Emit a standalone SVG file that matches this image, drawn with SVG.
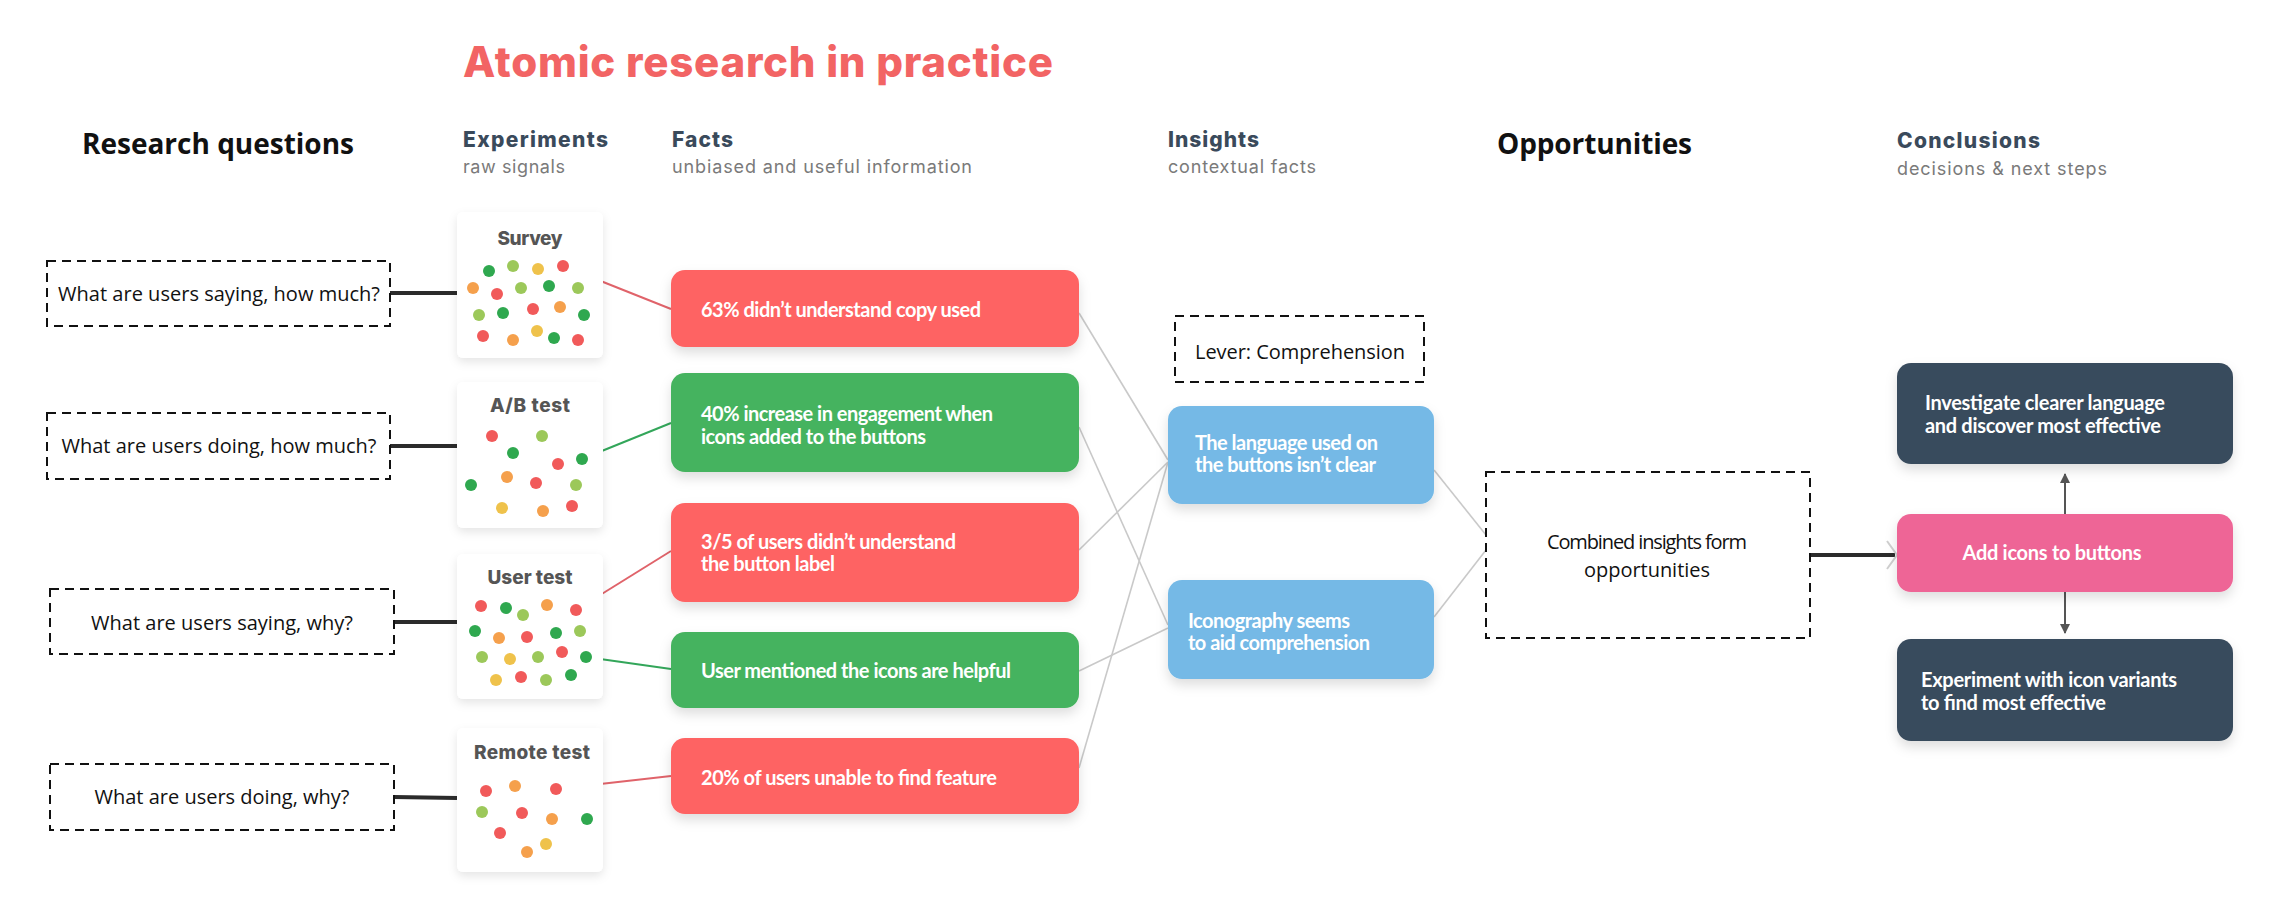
<svg xmlns="http://www.w3.org/2000/svg" width="2284" height="912" viewBox="0 0 2284 912">
<defs>
<filter id="sh" x="-20%" y="-20%" width="140%" height="160%">
<feDropShadow dx="0" dy="6" stdDeviation="6" flood-color="#000" flood-opacity="0.13"/>
</filter>
<filter id="shc" x="-20%" y="-20%" width="140%" height="140%">
<feDropShadow dx="0" dy="4" stdDeviation="5" flood-color="#000" flood-opacity="0.10"/>
</filter>
<marker id="ah" viewBox="0 0 10 10" refX="9" refY="5" markerWidth="10" markerHeight="10" markerUnits="userSpaceOnUse" orient="auto">
<path d="M0,0 L10,5 L0,10 z" fill="#555"/>
</marker>
</defs>
<style>
.hd{font-family:Inter,"Liberation Sans",sans-serif;font-weight:800;font-size:21px;fill:#3a4a5b}
.sub{font-family:Inter,"Liberation Sans",sans-serif;font-size:18px;fill:#7a7a7a}
.big{font-family:"Open Sans","Liberation Sans",sans-serif;font-weight:700;font-size:28px;fill:#111}
.q{font-family:"Open Sans","Liberation Sans",sans-serif;font-size:20px;fill:#111}
.dash{fill:#fff;stroke:#111;stroke-width:2;stroke-dasharray:9 6}
.card{fill:#fff;filter:url(#shc)}
.ct{font-family:Inter,"Liberation Sans",sans-serif;font-weight:800;font-size:19px;fill:#555;text-anchor:middle}
.bt{font-family:Lato,"Liberation Sans",sans-serif;font-weight:700;font-size:20px;fill:#fff}
.red{fill:#fe6363;filter:url(#sh)}
.grn{fill:#45b35e;filter:url(#sh)}
.blu{fill:#75b9e6;filter:url(#sh)}
.drk{fill:#394b5d;filter:url(#sh)}
.pnk{fill:#ee6596;filter:url(#sh)}
.r{fill:#f15a5a}.o{fill:#f5a04c}.y{fill:#efc24b}.l{fill:#9cc85a}.g{fill:#2fa84f}
.thick{stroke:#2b2b2b;stroke-width:4;fill:none}
.gray{stroke:#c9c9c9;stroke-width:1.6;fill:none}
.lr{stroke:#e0636a;stroke-width:2;fill:none}
.lg{stroke:#33a65a;stroke-width:2;fill:none}
</style>
<rect width="2284" height="912" fill="#fff"/>

<g id="headers">
<text x="463" y="77" font-family="Inter,'Liberation Sans',sans-serif" font-weight="800" font-size="42" fill="#f26464" textLength="590">Atomic research in practice</text>
<text class="big" x="82" y="154" textLength="272">Research questions</text>
<text class="big" x="1497" y="154" textLength="195">Opportunities</text>
<text class="hd" x="463" y="147" textLength="145">Experiments</text>
<text class="sub" x="463" y="173" textLength="102">raw signals</text>
<text class="hd" x="672" y="147" textLength="61">Facts</text>
<text class="sub" x="672" y="173" textLength="300">unbiased and useful information</text>
<text class="hd" x="1168" y="147" textLength="91">Insights</text>
<text class="sub" x="1168" y="173" textLength="148">contextual facts</text>
<text class="hd" x="1897" y="148" textLength="143">Conclusions</text>
<text class="sub" x="1897" y="175" textLength="210">decisions &amp; next steps</text>
</g>

<g id="connectors">
<line class="thick" x1="390" y1="293" x2="457" y2="293"/>
<line class="thick" x1="390" y1="446" x2="457" y2="446"/>
<line class="thick" x1="394" y1="622" x2="457" y2="622"/>
<line class="thick" x1="394" y1="797" x2="457" y2="798"/>
<line class="lr" x1="563" y1="266" x2="671" y2="309"/>
<line class="lg" x1="582" y1="459" x2="671" y2="423"/>
<line class="lr" x1="576" y1="610" x2="671" y2="551"/>
<line class="lg" x1="586" y1="657" x2="671" y2="669"/>
<line class="lr" x1="556" y1="789" x2="671" y2="776"/>
<line class="gray" x1="1079" y1="313" x2="1168" y2="460"/>
<line class="gray" x1="1079" y1="427" x2="1168" y2="625"/>
<line class="gray" x1="1079" y1="550" x2="1168" y2="462"/>
<line class="gray" x1="1079" y1="671" x2="1168" y2="628"/>
<line class="gray" x1="1079" y1="768" x2="1168" y2="462"/>
<line class="gray" x1="1434" y1="470" x2="1486" y2="535"/>
<line class="gray" x1="1434" y1="617" x2="1486" y2="550"/>
<line class="thick" x1="1810" y1="555" x2="1895" y2="555"/>
<path d="M1887,541 L1897,555 L1887,569" stroke="#cfcfcf" stroke-width="2" fill="none"/>
<line x1="2065" y1="514" x2="2065" y2="474" stroke="#555" stroke-width="2" marker-end="url(#ah)"/>
<line x1="2065" y1="592" x2="2065" y2="633" stroke="#555" stroke-width="2" marker-end="url(#ah)"/>
</g>

<g id="q1"><rect class="dash" x="47" y="261" width="343" height="65"/><text class="q" x="219" y="301" text-anchor="middle" textLength="322">What are users saying, how much?</text></g>
<g id="q2"><rect class="dash" x="47" y="413" width="343" height="66"/><text class="q" x="219" y="453" text-anchor="middle" textLength="315">What are users doing, how much?</text></g>
<g id="q3"><rect class="dash" x="50" y="589" width="344" height="65"/><text class="q" x="222" y="630" text-anchor="middle" textLength="262">What are users saying, why?</text></g>
<g id="q4"><rect class="dash" x="50" y="764" width="344" height="66"/><text class="q" x="222" y="804" text-anchor="middle" textLength="255">What are users doing, why?</text></g>

<g id="survey">
<rect class="card" x="457" y="212" width="146" height="146" rx="6"/>
<text class="ct" x="530" y="245" textLength="65">Survey</text>
<circle class="g" cx="489" cy="271" r="6"/><circle class="l" cx="513" cy="266" r="6"/><circle class="y" cx="538" cy="269" r="6"/><circle class="r" cx="563" cy="266" r="6"/>
<circle class="o" cx="473" cy="288" r="6"/><circle class="r" cx="497" cy="294" r="6"/><circle class="l" cx="521" cy="288" r="6"/><circle class="g" cx="549" cy="286" r="6"/><circle class="l" cx="578" cy="288" r="6"/>
<circle class="l" cx="479" cy="315" r="6"/><circle class="g" cx="503" cy="313" r="6"/><circle class="r" cx="533" cy="309" r="6"/><circle class="o" cx="560" cy="307" r="6"/><circle class="g" cx="584" cy="315" r="6"/>
<circle class="r" cx="483" cy="336" r="6"/><circle class="o" cx="513" cy="340" r="6"/><circle class="y" cx="537" cy="331" r="6"/><circle class="g" cx="554" cy="338" r="6"/><circle class="r" cx="578" cy="340" r="6"/>
</g>

<g id="abtest">
<rect class="card" x="457" y="382" width="146" height="146" rx="6"/>
<text class="ct" x="530" y="412" textLength="80">A/B test</text>
<circle class="r" cx="492" cy="436" r="6"/><circle class="l" cx="542" cy="436" r="6"/><circle class="g" cx="513" cy="453" r="6"/><circle class="r" cx="558" cy="464" r="6"/><circle class="g" cx="582" cy="459" r="6"/>
<circle class="g" cx="471" cy="485" r="6"/><circle class="o" cx="507" cy="477" r="6"/><circle class="r" cx="536" cy="483" r="6"/><circle class="l" cx="576" cy="485" r="6"/>
<circle class="y" cx="502" cy="508" r="6"/><circle class="o" cx="543" cy="511" r="6"/><circle class="r" cx="572" cy="506" r="6"/>
</g>

<g id="usertest">
<rect class="card" x="457" y="554" width="146" height="145" rx="6"/>
<text class="ct" x="530" y="584" textLength="85">User test</text>
<circle class="r" cx="481" cy="606" r="6"/><circle class="g" cx="506" cy="608" r="6"/><circle class="l" cx="523" cy="615" r="6"/><circle class="o" cx="547" cy="605" r="6"/><circle class="r" cx="576" cy="610" r="6"/>
<circle class="g" cx="475" cy="631" r="6"/><circle class="o" cx="499" cy="638" r="6"/><circle class="r" cx="527" cy="637" r="6"/><circle class="g" cx="556" cy="633" r="6"/><circle class="l" cx="580" cy="631" r="6"/>
<circle class="l" cx="482" cy="657" r="6"/><circle class="y" cx="510" cy="659" r="6"/><circle class="l" cx="538" cy="657" r="6"/><circle class="r" cx="562" cy="652" r="6"/><circle class="g" cx="586" cy="657" r="6"/>
<circle class="y" cx="496" cy="680" r="6"/><circle class="r" cx="521" cy="677" r="6"/><circle class="l" cx="546" cy="680" r="6"/><circle class="g" cx="571" cy="675" r="6"/>
</g>

<g id="remotetest">
<rect class="card" x="457" y="728" width="146" height="144" rx="6"/>
<text class="ct" x="532" y="759" textLength="116">Remote test</text>
<circle class="r" cx="486" cy="791" r="6"/><circle class="o" cx="515" cy="786" r="6"/><circle class="r" cx="556" cy="789" r="6"/>
<circle class="l" cx="482" cy="812" r="6"/><circle class="r" cx="522" cy="813" r="6"/><circle class="o" cx="552" cy="819" r="6"/><circle class="g" cx="587" cy="819" r="6"/>
<circle class="r" cx="500" cy="833" r="6"/><circle class="y" cx="546" cy="844" r="6"/><circle class="o" cx="527" cy="852" r="6"/>
</g>

<g id="fact1"><rect class="red" x="671" y="270" width="408" height="77" rx="14"/><text class="bt" x="701" y="317" textLength="280">63% didn’t understand copy used</text></g>
<g id="fact2"><rect class="grn" x="671" y="373" width="408" height="99" rx="14"/><text class="bt" x="701" y="421" textLength="292">40% increase in engagement when</text><text class="bt" x="701" y="444" textLength="225">icons added to the buttons</text></g>
<g id="fact3"><rect class="red" x="671" y="503" width="408" height="99" rx="14"/><text class="bt" x="701" y="549" textLength="255">3/5 of users didn’t understand</text><text class="bt" x="701" y="571" textLength="134">the button label</text></g>
<g id="fact4"><rect class="grn" x="671" y="632" width="408" height="76" rx="14"/><text class="bt" x="701" y="678" textLength="310">User mentioned the icons are helpful</text></g>
<g id="fact5"><rect class="red" x="671" y="738" width="408" height="76" rx="14"/><text class="bt" x="701" y="785" textLength="296">20% of users unable to find feature</text></g>

<g id="lever"><rect class="dash" x="1175" y="316" width="249" height="66"/><text class="q" x="1300" y="359" text-anchor="middle" textLength="210">Lever: Comprehension</text></g>
<g id="insight1"><rect class="blu" x="1168" y="406" width="266" height="98" rx="14"/><text class="bt" x="1195" y="450" textLength="183">The language used on</text><text class="bt" x="1195" y="472" textLength="181">the buttons isn’t clear</text></g>
<g id="insight2"><rect class="blu" x="1168" y="580" width="266" height="99" rx="14"/><text class="bt" x="1188" y="628" textLength="162">Iconography seems</text><text class="bt" x="1188" y="650" textLength="182">to aid comprehension</text></g>

<g id="opportunity"><rect class="dash" x="1486" y="472" width="324" height="166"/><text class="q" x="1647" y="549" text-anchor="middle" textLength="200">Combined insights form</text><text class="q" x="1647" y="577" text-anchor="middle" textLength="126">opportunities</text></g>

<g id="conclusion1"><rect class="drk" x="1897" y="363" width="336" height="101" rx="14"/><text class="bt" x="1925" y="410" textLength="240">Investigate clearer language</text><text class="bt" x="1925" y="433" textLength="236">and discover most effective</text></g>
<g id="conclusion2"><rect class="pnk" x="1897" y="514" width="336" height="78" rx="14"/><text class="bt" x="2052" y="560" text-anchor="middle" textLength="179">Add icons to buttons</text></g>
<g id="conclusion3"><rect class="drk" x="1897" y="639" width="336" height="102" rx="14"/><text class="bt" x="1921" y="687" textLength="256">Experiment with icon variants</text><text class="bt" x="1921" y="710" textLength="185">to find most effective</text></g>
</svg>
